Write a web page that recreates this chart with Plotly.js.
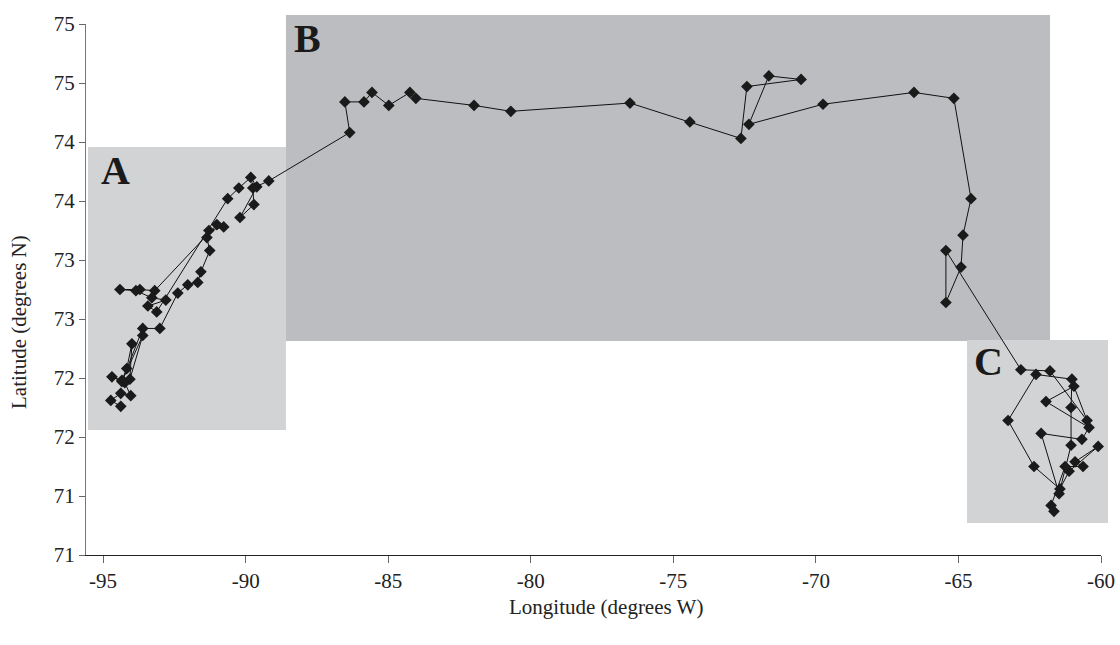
<!DOCTYPE html>
<html>
<head>
<meta charset="utf-8">
<script src="https://cdn.plot.ly/plotly-3.0.1.min.js"></script>
<style>html,body{margin:0;padding:0;background:#fff;}#chart{width:1120px;height:645px;}</style>
</head>
<body>
<div id="chart"></div>
<script>
// Track positions (longitude, latitude)
var lonA = [-94.38,-94.73,-94.38,-94.03,-94.24,-94.69,-94.34,-94.17,-93.99,-94.06,-93.61,-94.34,-93.61,-93.01,-92.38,-92.03,-91.68,-91.57,-91.26,-91.36,-91.29,-90.77,-91.01,-93.19,-93.71,-94.41,-93.85,-93.29,-92.80,-93.43,-93.12,-90.63,-90.24,-89.82,-89.61,-90.20,-89.71,-89.75,-89.19];
var latA = [71.76,71.81,71.87,71.85,71.96,72.01,71.98,72.08,72.29,71.99,72.36,71.97,72.42,72.42,72.72,72.79,72.81,72.90,73.08,73.19,73.25,73.28,73.30,72.74,72.75,72.75,72.74,72.68,72.66,72.61,72.56,73.52,73.61,73.70,73.62,73.36,73.47,73.61,73.67];
var lonB = [-86.35,-86.52,-85.85,-85.57,-84.98,-84.24,-84.03,-81.99,-80.70,-76.52,-74.42,-72.63,-72.42,-70.52,-71.65,-72.35,-69.75,-66.56,-65.16,-64.56,-64.84,-64.91,-65.44,-65.44];
var latB = [74.08,74.34,74.34,74.42,74.31,74.42,74.37,74.31,74.26,74.33,74.17,74.03,74.47,74.53,74.56,74.15,74.32,74.42,74.37,73.52,73.21,72.94,72.64,73.08];
var lonC = [-62.81,-61.79,-60.49,-60.95,-61.93,-60.42,-60.67,-62.10,-61.47,-61.05,-61.05,-61.02,-62.28,-63.26,-62.35,-61.44,-61.12,-60.10,-60.91,-60.63,-61.26,-61.75,-61.65];
var latC = [72.07,72.06,71.64,71.93,71.80,71.58,71.48,71.53,71.02,71.43,71.75,71.99,72.03,71.64,71.25,71.06,71.21,71.42,71.29,71.25,71.25,70.92,70.87];

var xTickVals = [-95,-90,-85,-80,-75,-70,-65,-60];
var xTickText = ["-95","-90","-85","-80","-75","-70","-65","-60"];
var yTickVals = [70.5,71,71.5,72,72.5,73,73.5,74,74.5,75];
var yTickText = ["71","71","72","72","73","73","74","74","75","75"];
var regionLabels = ["A","B","C"];
var xTitle = "Longitude (degrees W)";
var yTitle = "Latitude (degrees N)";

var lon = lonA.concat(lonB, lonC);
var lat = latA.concat(latB, latC);

var serif = "Liberation Serif, Times New Roman, serif";

var trace = {
  x: lon, y: lat, type: "scatter", mode: "lines+markers",
  line: {color: "#111", width: 1},
  marker: {symbol: "diamond", size: 9, color: "#1a1a1a"},
  hoverinfo: "x+y", showlegend: false, cliponaxis: false
};

function lab(i, x, y) {
  return {xref: "paper", yref: "paper", x: x, y: y, xanchor: "center", yanchor: "middle",
    text: "<b>" + regionLabels[i] + "</b>", showarrow: false,
    font: {family: serif, size: 40, color: "#1a1a1a"}};
}

var layout = {
  width: 1120, height: 645,
  margin: {l: 86, r: 19, t: 24, b: 90},
  paper_bgcolor: "#fff", plot_bgcolor: "rgba(0,0,0,0)",
  font: {family: serif, size: 21, color: "#222"},
  showlegend: false,
  xaxis: {
    range: [-95.6, -60], tickvals: xTickVals, ticktext: xTickText, ticks: "outside", ticklen: 7,
    tickcolor: "#666", showline: true, linecolor: "#222", linewidth: 1,
    showgrid: false, zeroline: false, tickfont: {family: serif, size: 21, color: "#222"}
  },
  yaxis: {
    range: [70.5, 75], tickvals: yTickVals, ticktext: yTickText, ticks: "outside", ticklen: 6,
    tickcolor: "#666", showline: true, linecolor: "#777", linewidth: 1,
    showgrid: false, zeroline: false, tickfont: {family: serif, size: 21, color: "#222"}
  },
  shapes: [
    {type: "rect", xref: "paper", yref: "paper", x0: 0.002, x1: 0.197, y0: 0.2354, y1: 0.7684, fillcolor: "#d2d3d5", line: {width: 0}, layer: "below"},
    {type: "rect", xref: "paper", yref: "paper", x0: 0.197, x1: 0.9498, y0: 0.403, y1: 1.017, fillcolor: "#bcbdc1", line: {width: 0}, layer: "below"},
    {type: "rect", xref: "paper", yref: "paper", x0: 0.868, x1: 1.0069, y0: 0.0603, y1: 0.405, fillcolor: "#d2d3d5", line: {width: 0}, layer: "below"}
  ],
  annotations: [
    lab(0, 0.0286, 0.725), lab(1, 0.2187, 0.9736), lab(2, 0.8887, 0.3635),
    {xref: "paper", yref: "paper", x: 0.5123, y: -0.0979, xanchor: "center", yanchor: "middle",
     text: xTitle, showarrow: false, font: {family: serif, size: 21, color: "#222"}},
    {xref: "paper", yref: "paper", x: -0.066, y: 0.4388, xanchor: "center", yanchor: "middle", textangle: -90,
     text: yTitle, showarrow: false, font: {family: serif, size: 21, color: "#222"}}
  ]
};

Plotly.newPlot("chart", [trace], layout, {displayModeBar: false, staticPlot: true});
</script>
</body>
</html>
